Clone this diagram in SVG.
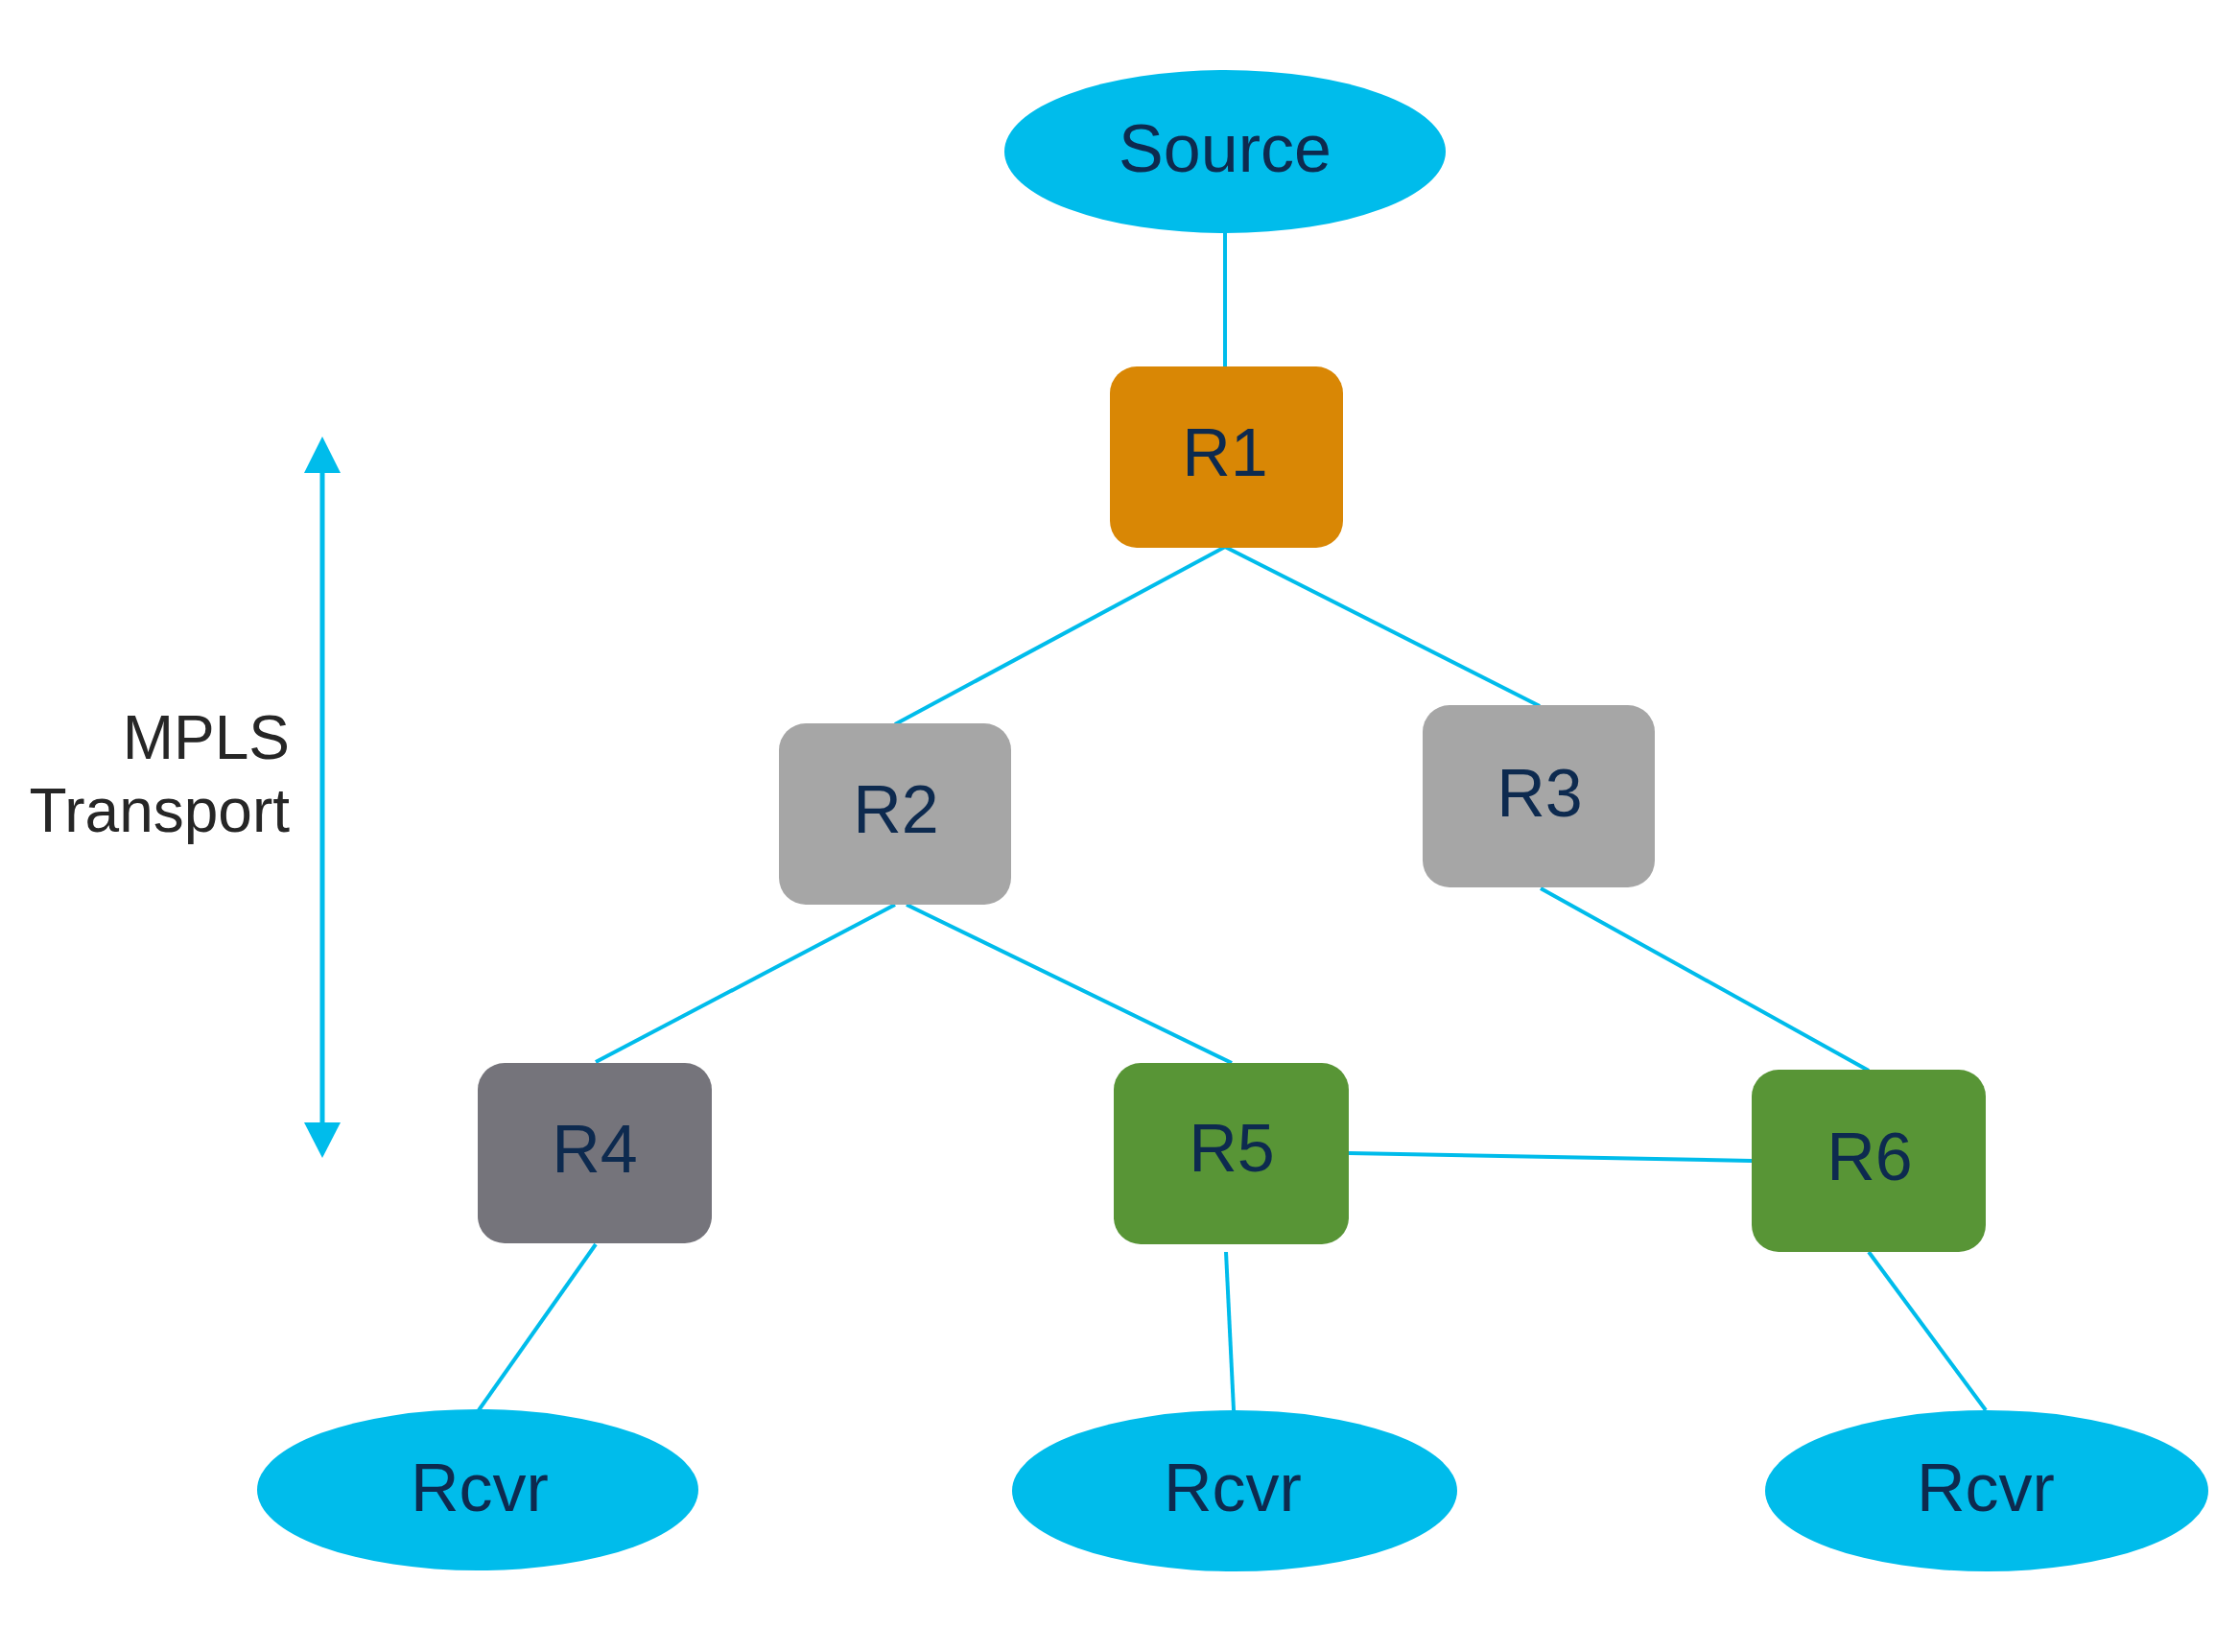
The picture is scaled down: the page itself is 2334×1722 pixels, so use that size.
<svg xmlns="http://www.w3.org/2000/svg" width="2334" height="1722" viewBox="0 0 2334 1722">
<style>
.lbl{font-family:"Liberation Sans",Arial,sans-serif;font-size:70px;fill:#0d2a4f;text-anchor:middle}
.side{font-family:"Liberation Sans",Arial,sans-serif;font-size:64px;fill:#262626;text-anchor:end}
.ell{fill:#00bceb}
.box{stroke:none}
.conn line{stroke:#00bceb;stroke-width:4;fill:none}
</style>
<rect width="2334" height="1722" fill="#ffffff"/>
<g id="connectors" class="conn">
<line x1="1277" y1="243" x2="1277" y2="383"/>
<line x1="1277" y1="570" x2="933" y2="755"/>
<line x1="1277" y1="570" x2="1605" y2="736"/>
<line x1="933" y1="943" x2="621" y2="1107"/>
<line x1="945" y1="943" x2="1284" y2="1108"/>
<line x1="1606" y1="926" x2="1948" y2="1116"/>
<line x1="1406" y1="1202" x2="1826" y2="1210"/>
<line x1="1278" y1="1305" x2="1286" y2="1470"/>
<line x1="621" y1="1297" x2="499" y2="1470"/>
<line x1="1948" y1="1305" x2="2070" y2="1470"/>
</g>
<g id="mpls-arrow">
<line x1="336" y1="490" x2="336" y2="1172" stroke="#00bceb" stroke-width="5"/>
<polygon points="336,455 317,493 355,493" fill="#00bceb"/>
<polygon points="336,1207 317,1170 355,1170" fill="#00bceb"/>
<text class="side" x="302" y="791">MPLS</text>
<text class="side" x="302" y="867">Transport</text>
</g>
<g id="source">
<ellipse class="ell" cx="1277" cy="158" rx="230" ry="85"/>
<text class="lbl" x="1277" y="179">Source</text>
</g>
<g id="R1">
<rect class="box" x="1157" y="382" width="243" height="189" rx="28" fill="#d98705"/>
<text class="lbl" x="1277" y="496">R1</text>
</g>
<g id="R2">
<rect class="box" x="812" y="754" width="242" height="189" rx="28" fill="#a6a6a6"/>
<text class="lbl" x="934" y="868">R2</text>
</g>
<g id="R3">
<rect class="box" x="1483" y="735" width="242" height="190" rx="28" fill="#a6a6a6"/>
<text class="lbl" x="1605" y="851">R3</text>
</g>
<g id="R4">
<rect class="box" x="498" y="1108" width="244" height="188" rx="28" fill="#75747b"/>
<text class="lbl" x="620" y="1222">R4</text>
</g>
<g id="R5">
<rect class="box" x="1161" y="1108" width="245" height="189" rx="28" fill="#589536"/>
<text class="lbl" x="1284" y="1221">R5</text>
</g>
<g id="R6">
<rect class="box" x="1826" y="1115" width="244" height="190" rx="28" fill="#589536"/>
<text class="lbl" x="1949" y="1230">R6</text>
</g>
<g id="rcvr1">
<ellipse class="ell" cx="498" cy="1553" rx="230" ry="84"/>
<text class="lbl" x="500" y="1575">Rcvr</text>
</g>
<g id="rcvr2">
<ellipse class="ell" cx="1287" cy="1554" rx="232" ry="84"/>
<text class="lbl" x="1285" y="1575">Rcvr</text>
</g>
<g id="rcvr3">
<ellipse class="ell" cx="2071" cy="1554" rx="231" ry="84"/>
<text class="lbl" x="2070" y="1575">Rcvr</text>
</g>
</svg>
